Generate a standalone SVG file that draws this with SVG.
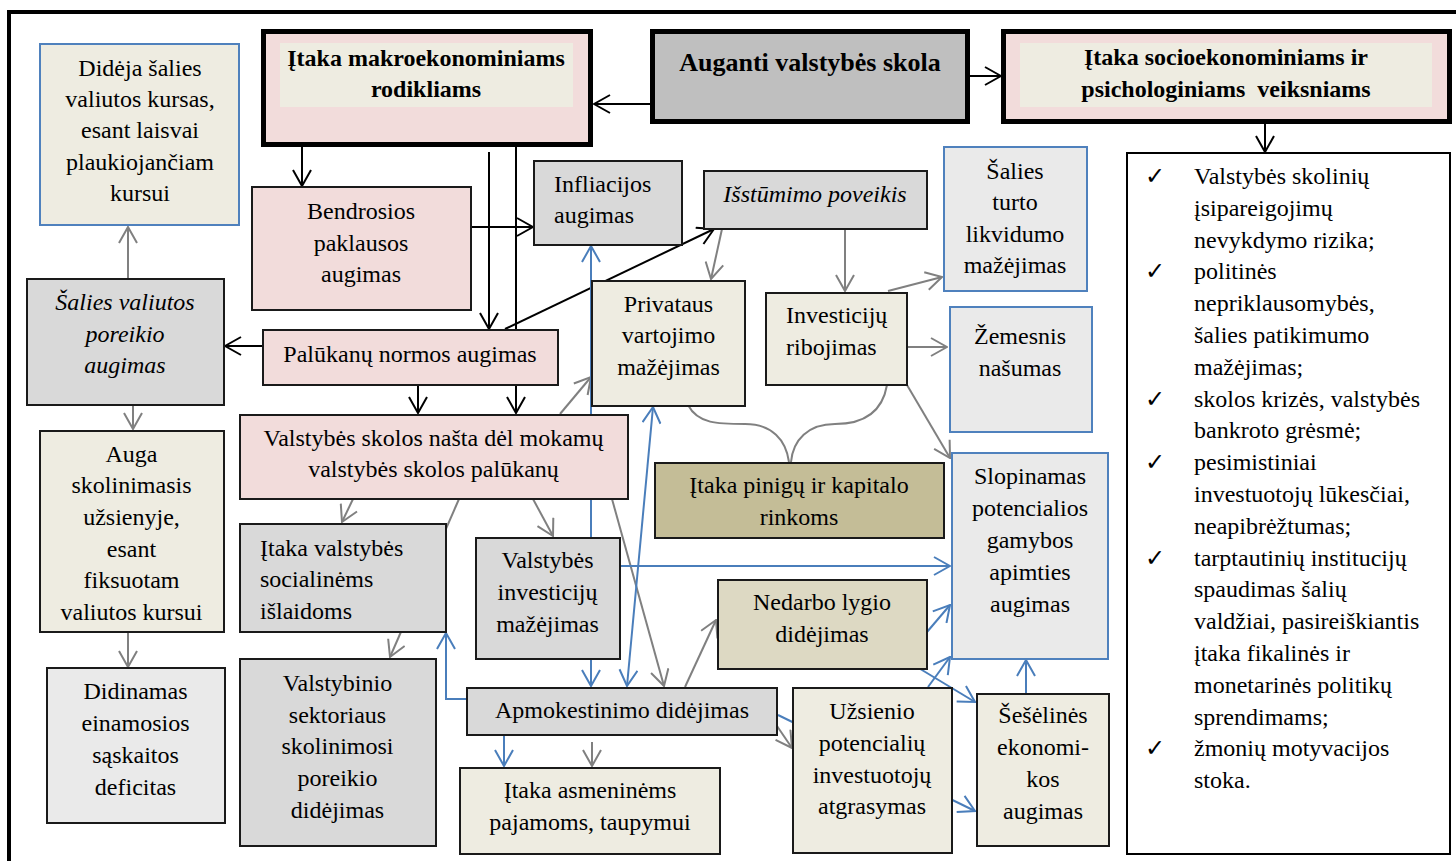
<svg xmlns="http://www.w3.org/2000/svg" width="1456" height="861" viewBox="0 0 1456 861" font-family="Liberation Serif, Times New Roman, serif">
<style>
.t{font-size:24px;fill:#000}
.c{text-anchor:middle}
.b{font-weight:bold}
.i{font-style:italic}
.n{stroke:#1a1a1a;stroke-width:2}
.nb{stroke:#4F81BD;stroke-width:2}
.thick{stroke:#000;stroke-width:5}
.pink{fill:#F2DCDB}
.beige{fill:#EEECE1}
.gray{fill:#D9D9D9}
.lgray{fill:#EAEAEA}
.k{fill:none;stroke:#000;stroke-width:2}
.g{fill:none;stroke:#808080;stroke-width:2}
.l{fill:none;stroke:#4A7EBB;stroke-width:2}
.chk{font-size:24px;fill:#000}
</style>
<defs>
<marker id="ak" viewBox="0 0 18 20" refX="17" refY="10" markerWidth="18" markerHeight="20" markerUnits="userSpaceOnUse" orient="auto-start-reverse"><path d="M1,1 L17,10 L1,19" fill="none" stroke="#000" stroke-width="2"/></marker>
<marker id="ag" viewBox="0 0 18 20" refX="17" refY="10" markerWidth="18" markerHeight="20" markerUnits="userSpaceOnUse" orient="auto-start-reverse"><path d="M1,1 L17,10 L1,19" fill="none" stroke="#808080" stroke-width="2"/></marker>
<marker id="al" viewBox="0 0 18 20" refX="17" refY="10" markerWidth="18" markerHeight="20" markerUnits="userSpaceOnUse" orient="auto-start-reverse"><path d="M1,1 L17,10 L1,19" fill="none" stroke="#4A7EBB" stroke-width="2"/></marker>
</defs>
<rect width="1456" height="861" fill="#fff"/>
<path d="M9,870 L9,12 L1460,12" fill="none" stroke="#000" stroke-width="4"/>

<g id="connectors">
<path class="k" d="M650,104 L594,104" marker-end="url(#ak)"/>
<path class="k" d="M970,76 L1001,76" marker-end="url(#ak)"/>
<path class="k" d="M1265,124 L1265,152" marker-end="url(#ak)"/>
<path class="k" d="M302,147 L302,186" marker-end="url(#ak)"/>
<path class="k" d="M489,152 L489,329" marker-end="url(#ak)"/>
<path class="k" d="M516,147 L516,413" marker-end="url(#ak)"/>
<path class="k" d="M471,227 L533,227" marker-end="url(#ak)"/>
<path class="k" d="M505,329 L714,229" marker-end="url(#ak)"/>
<path class="k" d="M262,346 L225,346" marker-end="url(#ak)"/>
<path class="k" d="M418,385 L418,413" marker-end="url(#ak)"/>

<path class="g" d="M128,278 L128,227" marker-end="url(#ag)"/>
<path class="g" d="M133,405 L133,429" marker-end="url(#ag)"/>
<path class="g" d="M128,632 L128,667" marker-end="url(#ag)"/>
<path class="g" d="M722,229 L711,279" marker-end="url(#ag)"/>
<path class="g" d="M845,229 L845,291" marker-end="url(#ag)"/>
<path class="g" d="M888,291 L942,277" marker-end="url(#ag)"/>
<path class="g" d="M907,347 L947,347" marker-end="url(#ag)"/>
<path class="g" d="M907,385 L950,458" marker-end="url(#ag)"/>
<path class="g" d="M560,414 L591,377" marker-end="url(#ag)"/>
<path class="g" d="M353,499 L342,522" marker-end="url(#ag)"/>
<path class="g" d="M459,499 L390,657" marker-end="url(#ag)"/>
<path class="g" d="M533,499 L553,536" marker-end="url(#ag)"/>
<path class="g" d="M612,499 L664,686" marker-end="url(#ag)"/>
<path class="g" d="M685,687 L716,620" marker-end="url(#ag)"/>
<path class="g" d="M592,742 L592,766" marker-end="url(#ag)"/>
<path class="g" d="M777,726 L792,748" marker-end="url(#ag)"/>
<path class="g" d="M688,405 C698,424 718,424 745,424 C772,424 786,440 789,462"/>
<path class="g" d="M887,385 C882,414 862,424 835,424 C808,424 793,440 791,462"/>

<path class="l" d="M591,246 L591,686" marker-start="url(#al)" marker-end="url(#al)"/>
<path class="l" d="M653,407 L627,686" marker-start="url(#al)" marker-end="url(#al)"/>
<path class="l" d="M620,566 L950,566" marker-end="url(#al)"/>
<path class="l" d="M466,699 L446,699 L446,633" marker-end="url(#al)"/>
<path class="l" d="M504,735 L504,766" marker-end="url(#al)"/>
<path class="l" d="M778,715 L975,811" marker-end="url(#al)"/>
<path class="l" d="M927,632 L950,605" marker-end="url(#al)"/>
<path class="l" d="M928,687 L950,657" marker-end="url(#al)"/>
<path class="l" d="M917,667 L975,702" marker-end="url(#al)"/>
<path class="l" d="M1026,693 L1026,660" marker-end="url(#al)"/>
</g>

<g id="n-makro">
<rect class="pink thick" x="263.5" y="31.5" width="327" height="113"/>
<rect class="beige" x="280" y="43" width="293" height="64"/>
<text class="t c b" x="426" y="66">Įtaka makroekonominiams</text>
<text class="t c b" x="426" y="97">rodikliams</text>
</g>
<g id="n-auganti">
<rect class="thick" fill="#BFBFBF" x="652.5" y="31.5" width="315" height="90"/>
<text class="t c b" x="810" y="71" style="font-size:26px">Auganti valstybės skola</text>
</g>
<g id="n-socio">
<rect class="pink thick" x="1003.5" y="31.5" width="446" height="90"/>
<rect class="beige" x="1020" y="43" width="412" height="64"/>
<text class="t c b" x="1226" y="65">Įtaka socioekonominiams ir</text>
<text class="t c b" x="1226" y="97" xml:space="preserve">psichologiniams  veiksniams</text>
</g>
<g id="n-list">
<rect fill="#fff" stroke="#000" stroke-width="2" x="1127" y="153" width="323" height="701"/>
<g font-family="DejaVu Sans, sans-serif">
<text class="chk" x="1145" y="184">✓</text>
<text class="chk" x="1145" y="279.4">✓</text>
<text class="chk" x="1145" y="406.6">✓</text>
<text class="chk" x="1145" y="470.2">✓</text>
<text class="chk" x="1145" y="565.6">✓</text>
<text class="chk" x="1145" y="756.4">✓</text>
</g>
<text class="t" x="1194" y="184">Valstybės skolinių</text>
<text class="t" x="1194" y="215.8">įsipareigojimų</text>
<text class="t" x="1194" y="247.6">nevykdymo rizika;</text>
<text class="t" x="1194" y="279.4">politinės</text>
<text class="t" x="1194" y="311.2">nepriklausomybės,</text>
<text class="t" x="1194" y="343">šalies patikimumo</text>
<text class="t" x="1194" y="374.8">mažėjimas;</text>
<text class="t" x="1194" y="406.6">skolos krizės, valstybės</text>
<text class="t" x="1194" y="438.4">bankroto grėsmė;</text>
<text class="t" x="1194" y="470.2">pesimistiniai</text>
<text class="t" x="1194" y="502">investuotojų lūkesčiai,</text>
<text class="t" x="1194" y="533.8">neapibrėžtumas;</text>
<text class="t" x="1194" y="565.6">tarptautinių institucijų</text>
<text class="t" x="1194" y="597.4">spaudimas šalių</text>
<text class="t" x="1194" y="629.2">valdžiai, pasireiškiantis</text>
<text class="t" x="1194" y="661">įtaka fikalinės ir</text>
<text class="t" x="1194" y="692.8">monetarinės politikų</text>
<text class="t" x="1194" y="724.6">sprendimams;</text>
<text class="t" x="1194" y="756.4">žmonių motyvacijos</text>
<text class="t" x="1194" y="788.2">stoka.</text>
</g>

<g id="n-dideja">
<rect class="beige nb" x="40" y="44" width="199" height="181"/>
<text class="t c" x="140" y="76">Didėja šalies</text>
<text class="t c" x="140" y="107">valiutos kursas,</text>
<text class="t c" x="140" y="138">esant laisvai</text>
<text class="t c" x="140" y="170">plaukiojančiam</text>
<text class="t c" x="140" y="201">kursui</text>
</g>
<g id="n-bendrosios">
<rect class="pink n" x="252" y="187" width="219" height="123"/>
<text class="t c" x="361" y="219">Bendrosios</text>
<text class="t c" x="361" y="251">paklausos</text>
<text class="t c" x="361" y="282">augimas</text>
</g>
<g id="n-infliacijos">
<rect class="gray n" x="534" y="161" width="148" height="84"/>
<text class="t" x="554" y="192">Infliacijos</text>
<text class="t" x="554" y="223">augimas</text>
</g>
<g id="n-isstumimo">
<rect class="gray n" x="704" y="171" width="223" height="58"/>
<text class="t c i" x="815" y="202">Išstūmimo poveikis</text>
</g>
<g id="n-turto">
<rect class="lgray nb" x="944" y="147" width="143" height="144"/>
<text class="t c" x="1015" y="179">Šalies</text>
<text class="t c" x="1015" y="210">turto</text>
<text class="t c" x="1015" y="242">likvidumo</text>
<text class="t c" x="1015" y="273">mažėjimas</text>
</g>
<g id="n-valiutos-poreikio">
<rect class="gray n" x="27" y="279" width="197" height="126"/>
<text class="t c i" x="125" y="310">Šalies valiutos</text>
<text class="t c i" x="125" y="342">poreikio</text>
<text class="t c i" x="125" y="373">augimas</text>
</g>
<g id="n-palukanu">
<rect class="pink n" x="263" y="330" width="295" height="55"/>
<text class="t c" x="410" y="362">Palūkanų normos augimas</text>
</g>
<g id="n-privataus">
<rect class="beige n" x="592" y="281" width="153" height="125"/>
<text class="t c" x="668.5" y="312">Privataus</text>
<text class="t c" x="668.5" y="343">vartojimo</text>
<text class="t c" x="668.5" y="375">mažėjimas</text>
</g>
<g id="n-investiciju">
<rect class="beige n" x="766" y="293" width="141" height="92"/>
<text class="t" x="786" y="323">Investicijų</text>
<text class="t" x="786" y="355">ribojimas</text>
</g>
<g id="n-zemesnis">
<rect class="lgray nb" x="950" y="307" width="142" height="125"/>
<text class="t c" x="1020" y="344">Žemesnis</text>
<text class="t c" x="1020" y="376">našumas</text>
</g>
<g id="n-auga">
<rect class="beige n" x="40" y="431" width="184" height="201"/>
<text class="t c" x="131.5" y="462">Auga</text>
<text class="t c" x="131.5" y="493">skolinimasis</text>
<text class="t c" x="131.5" y="525">užsienyje,</text>
<text class="t c" x="131.5" y="557">esant</text>
<text class="t c" x="131.5" y="588">fiksuotam</text>
<text class="t c" x="131.5" y="620">valiutos kursui</text>
</g>
<g id="n-nasta">
<rect class="pink n" x="240" y="415" width="388" height="84"/>
<text class="t c" x="433.5" y="446">Valstybės skolos našta dėl mokamų</text>
<text class="t c" x="433.5" y="477">valstybės skolos palūkanų</text>
</g>
<g id="n-pinigu">
<rect class="n" fill="#C4BD97" x="655" y="463" width="289" height="75"/>
<text class="t c" x="799" y="493">Įtaka pinigų ir kapitalo</text>
<text class="t c" x="799" y="525">rinkoms</text>
</g>
<g id="n-slopinamas">
<rect class="lgray nb" x="952" y="453" width="156" height="206"/>
<text class="t c" x="1030" y="484">Slopinamas</text>
<text class="t c" x="1030" y="516">potencialios</text>
<text class="t c" x="1030" y="548">gamybos</text>
<text class="t c" x="1030" y="580">apimties</text>
<text class="t c" x="1030" y="612">augimas</text>
</g>
<g id="n-socialines">
<rect class="gray n" x="240" y="524" width="206" height="108"/>
<text class="t" x="260" y="556">Įtaka valstybės</text>
<text class="t" x="260" y="587">socialinėms</text>
<text class="t" x="260" y="619">išlaidoms</text>
</g>
<g id="n-vinvesticiju">
<rect class="gray n" x="476" y="538" width="144" height="121"/>
<text class="t c" x="547.5" y="568">Valstybės</text>
<text class="t c" x="547.5" y="600">investicijų</text>
<text class="t c" x="547.5" y="632">mažėjimas</text>
</g>
<g id="n-nedarbo">
<rect class="n" fill="#DDD9C3" x="718" y="580" width="209" height="89"/>
<text class="t c" x="822" y="610">Nedarbo lygio</text>
<text class="t c" x="822" y="642">didėjimas</text>
</g>
<g id="n-didinamas">
<rect class="lgray n" x="47" y="668" width="178" height="155"/>
<text class="t c" x="135.5" y="699">Didinamas</text>
<text class="t c" x="135.5" y="731">einamosios</text>
<text class="t c" x="135.5" y="763">sąskaitos</text>
<text class="t c" x="135.5" y="795">deficitas</text>
</g>
<g id="n-valstybinio">
<rect class="gray n" x="240" y="659" width="196" height="187"/>
<text class="t c" x="337.5" y="691">Valstybinio</text>
<text class="t c" x="337.5" y="723">sektoriaus</text>
<text class="t c" x="337.5" y="754">skolinimosi</text>
<text class="t c" x="337.5" y="786">poreikio</text>
<text class="t c" x="337.5" y="818">didėjimas</text>
</g>
<g id="n-apmokestinimo">
<rect class="gray n" x="467" y="688" width="310" height="47"/>
<text class="t c" x="622" y="718">Apmokestinimo didėjimas</text>
</g>
<g id="n-asmeninems">
<rect class="beige n" x="460" y="768" width="260" height="86"/>
<text class="t c" x="590" y="798">Įtaka asmeninėms</text>
<text class="t c" x="590" y="830">pajamoms, taupymui</text>
</g>
<g id="n-uzsienio">
<rect class="beige n" x="793" y="688" width="159" height="165"/>
<text class="t c" x="872" y="719">Užsienio</text>
<text class="t c" x="872" y="751">potencialių</text>
<text class="t c" x="872" y="783">investuotojų</text>
<text class="t c" x="872" y="814">atgrasymas</text>
</g>
<g id="n-seselines">
<rect class="beige n" x="977" y="694" width="132" height="152"/>
<text class="t c" x="1043" y="723">Šešėlinės</text>
<text class="t c" x="1043" y="755">ekonomi-</text>
<text class="t c" x="1043" y="787">kos</text>
<text class="t c" x="1043" y="819">augimas</text>
</g>
</svg>
